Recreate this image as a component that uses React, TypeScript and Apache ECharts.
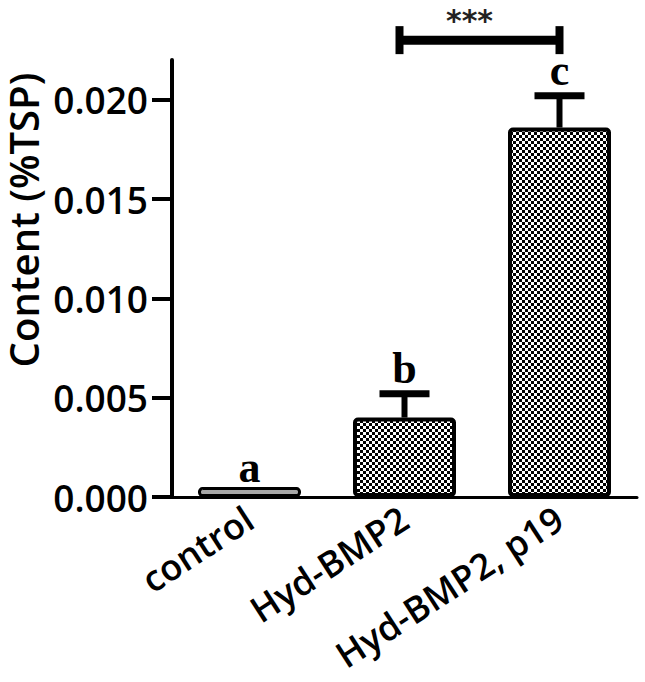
import React, { useEffect, useRef } from 'react';
import * as echarts from 'echarts';

const categories = ['control', 'Hyd-BMP2', 'Hyd-BMP2, p19'];
const means = [0.0005, 0.004, 0.0186];
const errors = [0, 0.0012, 0.0016];
const letters = ['a', 'b', 'c'];
const yTicks = [0, 0.005, 0.01, 0.015, 0.02];
const comparisonFrom = 1;
const comparisonTo = 2;
const comparisonLevel = 0.0230;
const comparisonLabel = '***';

function makePattern(): HTMLCanvasElement {
  const c = document.createElement('canvas');
  c.width = 6;
  c.height = 6;
  const ctx = c.getContext('2d')!;
  ctx.fillStyle = '#ffffff';
  ctx.fillRect(0, 0, 6, 6);
  ctx.fillStyle = '#000000';
  ctx.fillRect(0, 0, 3, 3);
  ctx.fillRect(3, 3, 3, 3);
  return c;
}

export default function App() {
  const ref = useRef<HTMLDivElement>(null);
  useEffect(() => {
    if (!ref.current) return;
    const chart = echarts.init(ref.current, null, { renderer: 'svg' });
    const pattern = makePattern();
    const option: any = {
      animation: false,
      backgroundColor: '#ffffff',
      grid: { left: 172, right: 8, top: 60, bottom: 185 },
      graphic: [
        {
          type: 'text',
          x: 23,
          y: 220,
          rotation: Math.PI / 2,
          style: {
            text: 'Content (%TSP)',
            font: '600 40px "Open Sans"',
            lineHeight: 40,
            fill: '#000',
            align: 'center',
            verticalAlign: 'middle',
          },
        },
      ],
      xAxis: {
        type: 'category',
        data: categories,
        axisLine: { lineStyle: { color: '#000', width: 3 } },
        axisTick: { alignWithLabel: true, length: 9, lineStyle: { color: '#000', width: 3 } },
        axisLabel: {
          rotate: 33,
          margin: 18,
          color: '#000',
          fontFamily: 'Open Sans',
          fontWeight: 600,
          fontSize: 36,
        },
      },
      yAxis: {
        type: 'value',
        min: 0,
        max: 0.022,
        interval: 0.005,
        splitLine: { show: false },
        axisLine: { show: true, lineStyle: { color: '#000', width: 4 } },
        axisTick: {
          show: true,
          length: 20,
          customValues: yTicks,
          lineStyle: { color: '#000', width: 4 },
        },
        axisLabel: {
          customValues: yTicks,
          margin: 24,
          color: '#000',
          fontFamily: 'Open Sans',
          fontWeight: 600,
          fontSize: 37,
          formatter: (v: number) => v.toFixed(3),
        },
      },
      series: [
        {
          type: 'bar',
          barWidth: 103,
          z: 3,
          data: means.map((m, i) => ({
            value: m,
            itemStyle: {
              color: i === 0 ? '#a8a8a8' : { image: pattern, repeat: 'repeat', imageWidth: 6, imageHeight: 6 },
              borderColor: '#000',
              borderWidth: i === 0 ? 3 : 4,
              borderRadius: 3,
            },
          })),
        },
        {
          type: 'custom',
          z: 2,
          data: means.map((m, i) => [i, m, m + errors[i], letters[i]]),
          encode: { x: 0, y: 2 },
          renderItem: (params: any, api: any) => {
            const x = api.value(0);
            const lo = api.coord([x, api.value(1)]);
            const hi = api.coord([x, api.value(2)]);
            const hasErr = api.value(2) > api.value(1);
            const children: any[] = [];
            if (hasErr) {
              children.push({
                type: 'line',
                shape: { x1: lo[0], y1: lo[1], x2: hi[0], y2: hi[1] },
                style: { stroke: '#000', lineWidth: 6 },
              });
              children.push({
                type: 'line',
                shape: { x1: hi[0] - 25, y1: hi[1], x2: hi[0] + 25, y2: hi[1] },
                style: { stroke: '#000', lineWidth: 7 },
              });
            }
            const letter = letters[params.dataIndex];
            children.push({
              type: 'text',
              x: hi[0],
              y: hi[1] - (hasErr ? 25 : 20),
              z2: 10,
              style: {
                text: letter,
                font: 'bold 44px "Liberation Serif"',
                fill: '#000',
                align: 'center',
                verticalAlign: 'middle',
              },
            });
            return { type: 'group', children };
          },
        },
        {
          type: 'custom',
          z: 4,
          clip: false,
          data: [[comparisonFrom, comparisonTo, comparisonLevel]],
          encode: { x: [0, 1], y: 2 },
          renderItem: (params: any, api: any) => {
            const a = api.coord([api.value(0), api.value(2)]);
            const b = api.coord([api.value(1), api.value(2)]);
            const x1 = a[0] - 5;
            const x2 = b[0];
            const y = a[1];
            return {
              type: 'group',
              children: [
                { type: 'line', shape: { x1, y1: y, x2, y2: y }, style: { stroke: '#000', lineWidth: 9 } },
                { type: 'line', shape: { x1, y1: y - 14, x2: x1, y2: y + 14 }, style: { stroke: '#000', lineWidth: 8 } },
                { type: 'line', shape: { x1: x2, y1: y - 14, x2: x2, y2: y + 14 }, style: { stroke: '#000', lineWidth: 8 } },
                {
                  type: 'text',
                  x: (x1 + x2) / 2 - 10,
                  y: y - 20,
                  style: {
                    text: comparisonLabel,
                    font: 'bold 30px "DejaVu Sans"',
                    lineHeight: 24,
                    fill: '#222',
                    align: 'center',
                    verticalAlign: 'middle',
                  },
                },
              ],
            };
          },
        },
      ],
    };
    chart.setOption(option);
    return () => chart.dispose();
  }, []);
  return (
    <div
      ref={ref}
      style={{ position: 'absolute', left: 0, top: 0, width: 645, height: 682 }}
    />
  );
}
